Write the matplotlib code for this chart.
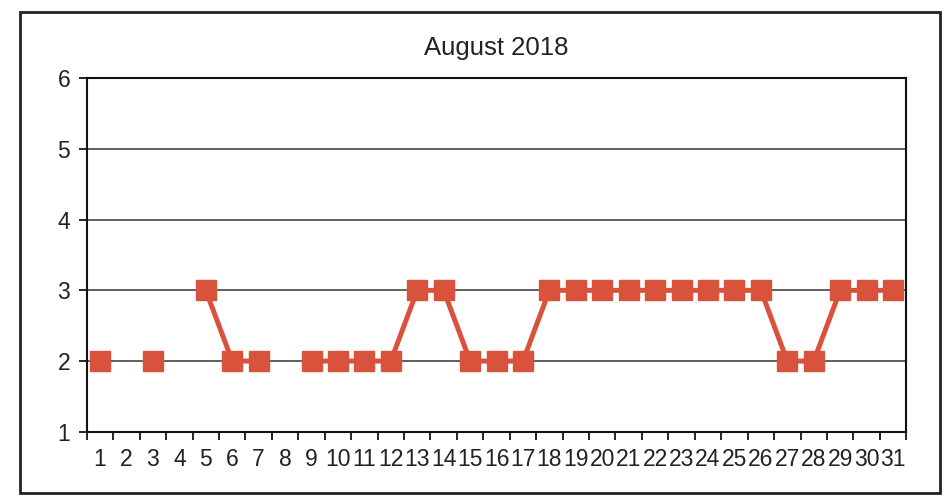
import numpy as np
import matplotlib
matplotlib.use("Agg")
import matplotlib.pyplot as plt
from matplotlib.patches import Rectangle

plt.rcParams['font.family'] = ['Liberation Sans', 'DejaVu Sans']

days = list(range(1, 32))
values = [2, None, 2, None, 3, 2, 2, None, 2, 2, 2, 2, 3, 3, 2, 2, 2,
          3, 3, 3, 3, 3, 3, 3, 3, 3, 2, 2, 3, 3, 3]
title = "August 2018"
yticks = [1, 2, 3, 4, 5, 6]

y = np.array([np.nan if v is None else v for v in values], dtype=float)
x = np.array(days, dtype=float)

fig = plt.figure(figsize=(9.44, 4.98), dpi=100)
ax = fig.add_axes([0.092, 0.133, 0.868, 0.71])

color = '#D9533C'
ax.plot(x, y, color=color, lw=3.6, marker='s', markersize=15,
        markerfacecolor=color, markeredgecolor=color, zorder=3)

ax.set_xlim(0.5, 31.5)
ax.set_ylim(1, 6)
ax.set_yticks(yticks)
ax.set_yticklabels([str(t) for t in yticks], fontsize=16.5, color='#222222')
for t in yticks[1:-1]:
    ax.axhline(t, color='#444444', lw=1.2, zorder=1)

ax.set_xticks(np.arange(0.5, 32, 1.0))
ax.set_xticklabels([])
ax.set_xticks(x, minor=True)
ax.set_xticklabels([str(d) for d in days], minor=True, fontsize=16.5, color='#222222')
ax.tick_params(axis='x', which='minor', length=0, pad=12)
ax.tick_params(axis='x', which='major', length=6, width=1.2, direction='out')
ax.tick_params(axis='y', length=6, width=1.2, direction='out', pad=6)

for s in ax.spines.values():
    s.set_linewidth(1.5)
    s.set_color('#111111')

ax.set_title(title, fontsize=18.5, pad=17, color='#222222')

fig.patches.append(Rectangle((0.021, 0.01), 0.975, 0.966, transform=fig.transFigure,
                             fill=False, edgecolor='#222222', lw=2))

fig.savefig("out.png", dpi=100)
